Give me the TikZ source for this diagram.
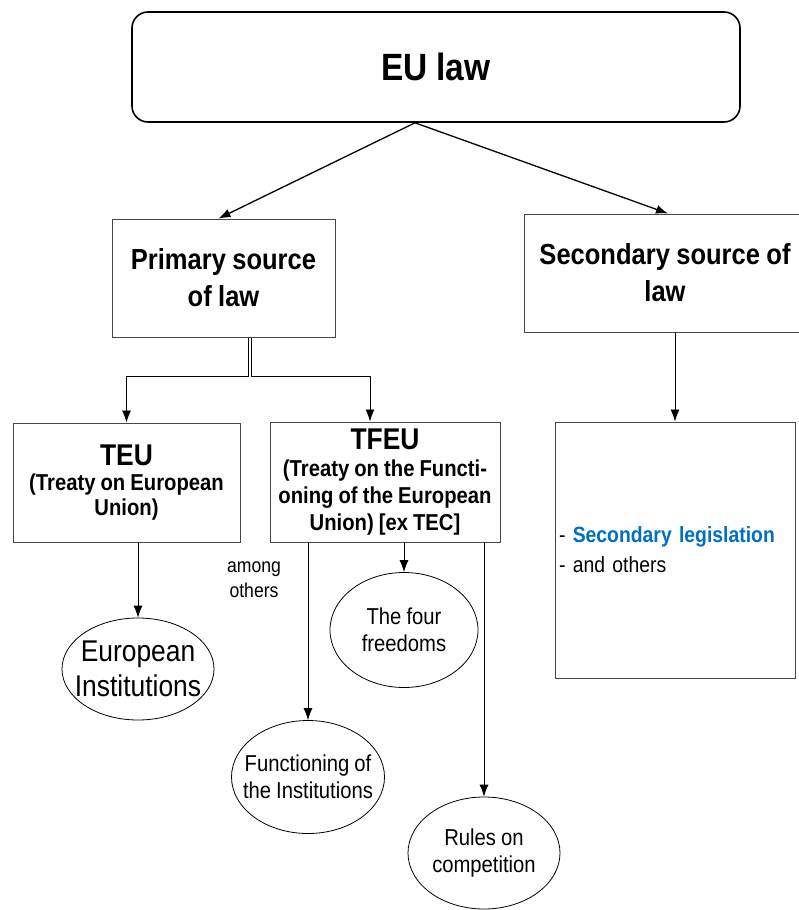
\documentclass[tikz,border=0pt]{standalone}
\usepackage{fontspec}
\setmainfont{Liberation Sans}[FakeStretch=0.88,WordSpace=0.9]
\usepackage{xcolor}
\usetikzlibrary{arrows.meta,shapes.geometric}
\definecolor{boxgray}{RGB}{70,70,70}
\definecolor{legblue}{RGB}{0,112,192}

\tikzset{
  lawbox/.style={draw=boxgray,line width=1pt,align=center,inner sep=3pt},
  topic/.style={draw=black,ellipse,line width=0.8pt,align=center,inner ysep=0pt,
                inner xsep=-11pt,font=\fontsize{23}{27}\selectfont},
  arr/.style={-{Latex[length=12pt,width=9pt]},line width=0.8pt},
}

\begin{document}
\begin{tikzpicture}[x=1pt,y=-1pt]
  \useasboundingbox (0,0) rectangle (798,910);

  % oberste Ebene
  \node[draw,line width=1.6pt,rounded corners=16pt,minimum width=608pt,minimum height=110pt,
        font=\bfseries\fontsize{38}{44}\selectfont] (eu) at (436,67) {EU law};

  % Primaer- und Sekundaerrecht
  \node[lawbox,minimum width=223pt,minimum height=118pt,
        font=\bfseries\fontsize{29}{37}\selectfont] (pri) at (223.5,278) {Primary source\\of law};
  \node[lawbox,minimum width=282pt,minimum height=118pt,
        font=\bfseries\fontsize{29}{37}\selectfont] (sec) at (665,273) {Secondary source of\\law};

  \draw[arr,line width=1.3pt] ([xshift=-21pt]eu.south) -- ([xshift=-5pt]pri.north);
  \draw[arr,line width=1.3pt] ([xshift=-21pt]eu.south) -- ([xshift=3pt]sec.north);

  % Vertraege
  \node[lawbox,minimum width=227pt,minimum height=119pt,
        font=\bfseries\fontsize{23}{25}\selectfont] (teu) at (126.5,482.5)
        {{\fontsize{30}{30}\selectfont TEU}\\(Treaty on European\\Union)};
  \node[lawbox,minimum width=230pt,minimum height=120pt,
        font=\bfseries\fontsize{23}{27}\selectfont] (tfeu) at (385,482)
        {{\fontsize{30}{30}\selectfont TFEU}\\(Treaty on the Functi-\\oning of the European\\Union) [ex TEC]};

  \coordinate (pjl) at (248,376);
  \coordinate (pjr) at (251,376);
  \draw[arr] (pri.south -| pjl) -- (pjl) -| (teu.north);
  \draw[arr] (pri.south -| pjr) -- (pjr) -| ([xshift=-15pt]tfeu.north);

  % Sekundaerrecht
  \node[lawbox,minimum width=240pt,minimum height=256pt,text width=232pt,align=left,
        font=\fontsize{22}{30}\selectfont] (leg) at (675,550)
        {- {\bfseries\color{legblue}Secondary legislation}\\- and others};
  \draw[arr] (leg.north |- sec.south) -- (leg.north);

  % Inhalte
  \node[topic,minimum width=152pt,minimum height=102pt,
        font=\fontsize{30}{35}\selectfont] (inst) at (138,669) {European\\Institutions};
  \node[topic,minimum width=148pt,minimum height=115pt] (four) at (404,630) {The four\\freedoms};
  \node[topic,minimum width=153pt,minimum height=113pt] (func) at (308,777) {Functioning of\\the Institutions};
  \node[topic,minimum width=152pt,minimum height=112pt] (rules) at (484,853) {Rules on\\competition};

  \node[align=center,font=\fontsize{20}{25}\selectfont] (among) at (254,580) {among\\others};

  \draw[arr] (inst.north |- teu.south) -- (inst.north);
  \draw[arr] (func.north |- tfeu.south) -- (func.north);
  \draw[arr] (four.north |- tfeu.south) -- (four.north);
  \draw[arr] (rules.north |- tfeu.south) -- (rules.north);
\end{tikzpicture}
\end{document}
